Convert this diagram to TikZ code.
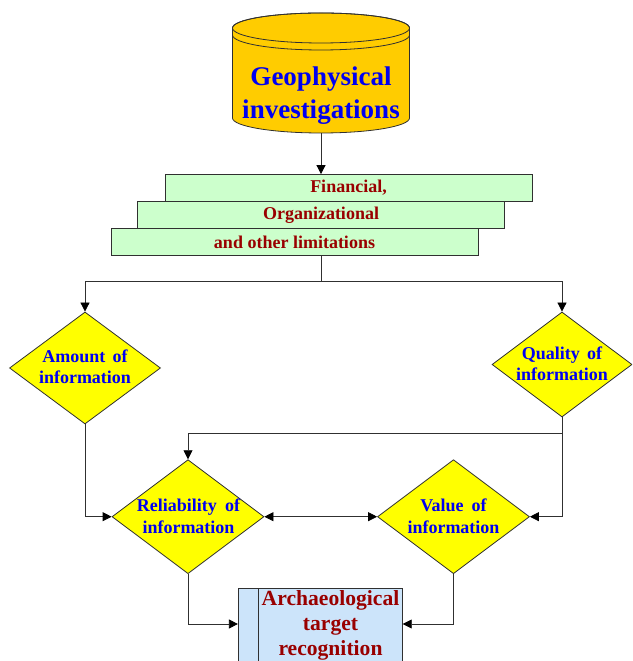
\documentclass[tikz,border=0pt]{standalone}
\usepackage{fontspec}
\setmainfont{Liberation Serif}
\usetikzlibrary{arrows.meta,shapes.geometric}
\definecolor{cylfill}{HTML}{FFCC00}
\definecolor{diafill}{HTML}{FFFF00}
\definecolor{grnfill}{HTML}{CCFFCC}
\definecolor{bluefill}{HTML}{CCE4FA}
\definecolor{txtblue}{HTML}{0000F0}
\definecolor{txtred}{HTML}{990000}
\definecolor{edge}{HTML}{303030}
\tikzset{
  x=1pt,y=1pt,
  conn/.style={draw=edge,line width=0.8pt},
  arr/.style={conn,-{Triangle[width=9pt,length=9pt,color=black]}},
  darr/.style={conn,{Triangle[width=9pt,length=9pt,color=black]}-{Triangle[width=9pt,length=9pt,color=black]}},
  greenbox/.style={draw=edge,line width=0.8pt,fill=grnfill,minimum width=367pt,minimum height=27pt,inner sep=0pt},
  redtxt/.style={text=txtred,font=\bfseries\fontsize{18}{21.5}\selectfont,align=center},
  dia/.style={diamond,draw=edge,line width=0.8pt,fill=diafill,inner sep=0pt},
  diatxt/.style={text=txtblue,font=\bfseries\fontsize{18}{21.5}\selectfont,align=center,inner sep=0pt},
}
\begin{document}
\begin{tikzpicture}
\path[use as bounding box] (0,0) rectangle (632,661);
\clip (0,0) rectangle (632,661);
% cylinder
\path[fill=cylfill,draw=edge,line width=0.8pt] (232.5,633) -- (232.5,543)
  arc[start angle=180,end angle=360,x radius=88.5,y radius=15] -- (409.5,633)
  arc[start angle=0,end angle=180,x radius=88.5,y radius=15] -- cycle;
\draw[edge,line width=0.8pt] (321,633) ellipse[x radius=88.5,y radius=15];
\draw[edge,line width=0.8pt] (232.5,626) arc[start angle=180,end angle=360,x radius=88.5,y radius=15];
\node[text=txtblue,font=\bfseries\fontsize{27}{33}\selectfont,align=center,inner sep=0pt] (geo) at (321,565.5) {Geophysical\\investigations};
\coordinate (geob) at (321,528);
% green boxes
\node[greenbox] (b1) at (348.5,473) {};
\node[greenbox] (b2) at (321,446) {};
\node[greenbox] (b3) at (294.5,419) {};
\node[redtxt] at (b1) {Financial,};
\node[redtxt] at (b2) {Organizational};
\node[redtxt] at (b3) {and other limitations};
\draw[arr] (geob) -- (geob |- b1.north);
\coordinate (j1) at (321,380);
% diamonds
\node[dia,minimum width=151pt,minimum height=112pt] (amt) at (85,293) {};
\node[diatxt] at (85,294) {Amount\hspace{0.4em}of\\information};
\node[dia,minimum width=140pt,minimum height=105pt] (qual) at (562,296.5) {};
\node[diatxt] at (562,297) {Quality\hspace{0.4em}of\\information};
\node[dia,minimum width=152pt,minimum height=114pt] (rel) at (188,144.3) {};
\node[diatxt] at (188.5,144.5) {Reliability\hspace{0.45em}of\\information};
\node[dia,minimum width=152pt,minimum height=114pt] (val) at (453.5,144.3) {};
\node[diatxt] at (453.5,144.5) {Value\hspace{0.45em}of\\information};
% connectors from limitations
\draw[conn] (j1 |- b3.south) -- (j1);
\draw[arr] (j1) -| (amt.north);
\draw[arr] (j1) -| (qual.north);
% middle connectors
\coordinate (j2) at (562,228);
\draw[arr] (qual.south) |- (val.east);
\draw[arr] (j2) -| (rel.north);
\draw[arr] (amt.south) |- (rel.west);
\draw[darr] (rel.east) -- (val.west);
% bottom box
\node[draw=edge,line width=0.8pt,fill=bluefill,minimum width=164pt,minimum height=100pt,inner sep=0pt,anchor=north] (arch) at (320.3,72.7) {};
\draw[edge,line width=0.8pt] (258.5,72.7) -- (258.5,-30);
\node[text=txtred,font=\bfseries\fontsize{21.6}{25}\selectfont,align=center,inner sep=0pt] (archt) at (330.5,36) {Archaeological\\target\\recognition};
\coordinate (abot) at (320,37);
\draw[arr] (rel.south) |- (arch.west |- abot);
\draw[arr] (val.south) |- (arch.east |- abot);
\end{tikzpicture}
\end{document}
